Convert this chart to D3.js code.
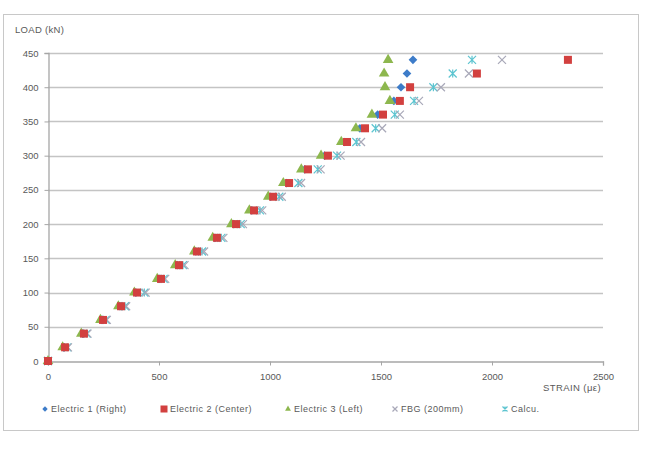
<!DOCTYPE html>
<html>
<head>
<meta charset="utf-8">
<script src="https://cdn.jsdelivr.net/npm/d3@7"></script>
<style>
  body { margin: 0; background: #fff; }
  text { font-family: "Liberation Sans", Arial, sans-serif; fill: #595959; }
</style>
</head>
<body>
<script>
// load steps (kN)
var loads = [0, 20, 40, 60, 80, 100, 120, 140, 160, 180, 200, 220, 240, 260, 280, 300, 320, 340, 360, 380, 400, 420, 440];

// strain readings (micro-strain) for each gauge
var elec1 = [0, 72, 157, 243, 324, 396, 500, 582, 666, 752, 837, 918, 1003, 1074, 1157, 1246, 1335, 1405, 1485, 1558, 1590, 1617, 1644];
var elec2 = [0, 77, 162, 248, 329, 401, 509, 590, 671, 761, 847, 928, 1014, 1086, 1171, 1261, 1347, 1428, 1509, 1585, 1631, 1932, 2342];
var elec3 = [0, 66, 150, 236, 317, 389, 492, 573, 659, 742, 826, 907, 992, 1060, 1141, 1230, 1321, 1387, 1459, 1540, 1518, 1514, 1532];
var fbg   = [0, 90, 178, 265, 352, 440, 528, 615, 703, 790, 878, 965, 1053, 1140, 1228, 1318, 1410, 1505, 1585, 1671, 1770, 1896, 2045];
var calcu = [0, 87, 174, 260, 347, 434, 521, 608, 694, 781, 868, 955, 1042, 1128, 1215, 1302, 1389, 1476, 1562, 1649, 1736, 1823, 1910];

var xTicks = [0, 500, 1000, 1500, 2000, 2500];
var yTicks = [0, 50, 100, 150, 200, 250, 300, 350, 400, 450];

var series = [
  {name: "Electric 1 (Right)",  vals: elec1, color: "#3d7cc9", shape: "diamond", lx: 45},
  {name: "Electric 2 (Center)", vals: elec2, color: "#d2403f", shape: "square",  lx: 164},
  {name: "Electric 3 (Left)",   vals: elec3, color: "#8db74e", shape: "triangle", lx: 288},
  {name: "FBG (200mm)",         vals: fbg,   color: "#a8a8b8", shape: "cross",   lx: 395},
  {name: "Calcu.",              vals: calcu, color: "#5cc4d0", shape: "star",    lx: 505}
];

var width = 648, height = 452;
var margin = {top: 53, right: 45, bottom: 91, left: 48};

var svg = d3.select("body").append("svg")
  .attr("width", width)
  .attr("height", height);

// chart frame
svg.append("rect")
  .attr("x", 3.5).attr("y", 14.5)
  .attr("width", 635).attr("height", 416)
  .attr("fill", "#fff")
  .attr("stroke", "#c8c8c8");

var x = d3.scaleLinear().domain([0, 2500]).range([margin.left, width - margin.right]);
var y = d3.scaleLinear().domain([0, 450]).range([height - margin.bottom, margin.top]);

// gridlines
svg.append("g")
  .selectAll("line")
  .data(yTicks.filter(function(d) { return d > 0; }))
  .enter().append("line")
  .attr("x1", x(0)).attr("x2", x(2500))
  .attr("y1", function(d) { return Math.round(y(d)) + 0.5; })
  .attr("y2", function(d) { return Math.round(y(d)) + 0.5; })
  .attr("stroke", "#c4c4c4")
  .attr("stroke-width", 1.3);

// axes
var xAxis = svg.append("g")
  .attr("transform", "translate(0," + (Math.round(y(0)) + 0.5) + ")")
  .call(d3.axisBottom(x).tickValues(xTicks).tickFormat(d3.format("d")).tickSize(4).tickPadding(8));
var yAxis = svg.append("g")
  .attr("transform", "translate(" + (x(0) + 0.5) + ",0)")
  .call(d3.axisLeft(y).tickValues(yTicks).tickFormat(d3.format("d")).tickSize(4).tickPadding(6));

[xAxis, yAxis].forEach(function(a) {
  a.select(".domain").attr("stroke", "#a6a6a6").attr("stroke-width", 1.3);
  a.selectAll(".tick line").attr("stroke", "#a6a6a6");
  a.selectAll("text").style("font-size", "9.5px").attr("fill", "#595959");
});

// axis titles
svg.append("text").attr("x", 15).attr("y", 33)
  .style("font-size", "9.5px").style("letter-spacing", "0.3px").attr("fill", "#404040")
  .text("LOAD (kN)");
svg.append("text").attr("x", 601).attr("y", 391)
  .attr("text-anchor", "end")
  .style("font-size", "9.5px").style("letter-spacing", "0.4px").attr("fill", "#404040")
  .text("STRAIN (\u03bc\u03b5)");

function drawMarker(g, shape, color, s) {
  if (shape === "square") {
    g.append("rect").attr("x", -s / 2).attr("y", -s / 2).attr("width", s).attr("height", s).attr("fill", color);
  } else if (shape === "diamond") {
    g.append("path").attr("d", d3.symbol(d3.symbolDiamond2, s * s * 0.75)()).attr("fill", color);
  } else if (shape === "triangle") {
    g.append("path").attr("d", d3.symbol(d3.symbolTriangle, s * s * 0.6)()).attr("fill", color);
  } else if (shape === "cross") {
    var h = s / 2;
    g.append("path").attr("d", "M" + -h + "," + -h + "L" + h + "," + h + "M" + -h + "," + h + "L" + h + "," + -h)
      .attr("stroke", color).attr("stroke-width", 1.2).attr("fill", "none");
  } else if (shape === "star") {
    var k = s / 2;
    g.append("path").attr("d", "M" + -k + "," + -k + "L" + k + "," + k + "M" + -k + "," + k + "L" + k + "," + -k + "M0," + -k + "L0," + k)
      .attr("stroke", color).attr("stroke-width", 1.2).attr("fill", "none");
  }
}

// points - draw back to front like the reference (cyan/grey under, squares on top)
var order = [4, 3, 0, 2, 1];
order.forEach(function(i) {
  var ser = series[i];
  var gSer = svg.append("g");
  ser.vals.forEach(function(v, j) {
    var g = gSer.append("g").attr("transform", "translate(" + x(v) + "," + y(loads[j]) + ")");
    var sz = ser.shape === "square" ? 8 : (ser.shape === "triangle" ? 9 : 8);
    drawMarker(g, ser.shape, ser.color, sz);
  });
});

// legend
var leg = svg.append("g");
series.forEach(function(ser) {
  var g = leg.append("g").attr("transform", "translate(" + ser.lx + ",409)");
  drawMarker(g.append("g"), ser.shape, ser.color, ser.shape === "square" ? 7 : 5);
  g.append("text").attr("x", 6).attr("y", 3)
    .style("font-size", "9px").style("letter-spacing", "0.5px").attr("fill", "#595959")
    .text(ser.name);
});
</script>
</body>
</html>
